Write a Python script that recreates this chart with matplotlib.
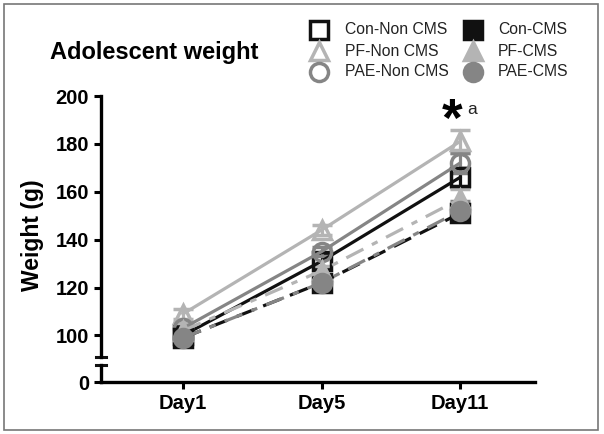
import matplotlib
matplotlib.use("Agg")
import matplotlib.pyplot as plt
from matplotlib.patches import Rectangle
from matplotlib.lines import Line2D

matplotlib.rcParams['font.family'] = ['Liberation Sans', 'DejaVu Sans']

BLACK = "#111111"
LIGHT = "#b4b4b4"
MID = "#858585"

days = ["Day1", "Day5", "Day11"]
con_non = [100, 131, 166]
pf_non = [109, 144, 181]
pae_non = [103, 135, 172]
con_cms = [99, 122, 151]
pf_cms = [102, 127, 157]
pae_cms = [99, 122, 152]
con_non_err = [2, 3, 4]
pf_non_err = [2, 2, 5]
pae_non_err = [2, 2, 4]
con_cms_err = [2, 2, 3]
pf_cms_err = [2, 2, 4]
pae_cms_err = [2, 2, 4]

series = [
    ("Con-Non CMS", con_non, con_non_err, BLACK, "s", "none", "-"),
    ("PF-Non CMS", pf_non, pf_non_err, LIGHT, "^", "none", "-"),
    ("PAE-Non CMS", pae_non, pae_non_err, MID, "o", "none", "-"),
    ("Con-CMS", con_cms, con_cms_err, BLACK, "s", BLACK, (0, (6, 3))),
    ("PF-CMS", pf_cms, pf_cms_err, LIGHT, "^", LIGHT, (0, (6, 3, 2, 3))),
    ("PAE-CMS", pae_cms, pae_cms_err, MID, "o", MID, (0, (6, 3, 2, 3))),
]

W, H = 604, 434
fig = plt.figure(figsize=(W / 100, H / 100), dpi=100)
ax = fig.add_axes([101 / W, 1 - 357 / H, 434 / W, 261 / H])
axb = fig.add_axes([101 / W, 1 - 382 / H, 434 / W, 17 / H])

x = list(range(len(days)))
for label, vals, err, col, mk, fc, ls in series:
    ax.errorbar(x, vals, yerr=err, color=col, lw=2.3, ls=ls, marker=mk,
                markersize=13, markerfacecolor=fc, markeredgecolor=col,
                markeredgewidth=2.5, capsize=7, capthick=2.3, elinewidth=2.3,
                clip_on=False, zorder=3)

xl = (-82 / 138.5, 352 / 138.5)
for a in (ax, axb):
    a.set_xlim(xl)
    for s in ("top", "right"):
        a.spines[s].set_visible(False)
    for s in ("left", "bottom"):
        a.spines[s].set_linewidth(2.4)
    a.tick_params(width=2.2, length=5, labelsize=14.5, direction="out")
    a.set_facecolor("none")

ax.set_ylim(91, 200)
ax.set_yticks([100, 120, 140, 160, 180, 200])
ax.spines["bottom"].set_visible(False)
ax.tick_params(axis="x", bottom=False, labelbottom=False)
axb.set_ylim(0, 7)
axb.set_yticks([0])
axb.set_xticks(x)
axb.set_xticklabels(days)
for a in (ax, axb):
    for t in a.get_yticklabels() + a.get_xticklabels():
        t.set_fontweight("bold")

# break marks
bw = 5 / 434
ax.plot([-bw, bw], [0, 0], transform=ax.transAxes, color=BLACK,
        lw=2.2, clip_on=False)
axb.plot([-bw, bw], [1, 1], transform=axb.transAxes, color=BLACK,
         lw=2.2, clip_on=False)

fig.text(33 / W, 1 - 235 / H, "Weight (g)", rotation=90, va="center",
         ha="center", fontsize=16.5, fontweight="bold")
fig.text(50 / W, 1 - 52 / H, "Adolescent weight", fontsize=17,
         fontweight="bold", va="center")
ax.text(2 - 0.06, 183.5, "*", fontsize=38, fontweight="bold", ha="center",
        va="baseline")
ax.text(2.087, 192.5, "a", fontsize=12.5, ha="center", va="baseline",
        color="#222222")

# legend, two columns
rows = [30, 51, 72]
cols = [(319, 345), (473, 498)]
for i, (label, vals, err, col, mk, fc, ls) in enumerate(series):
    mx, tx = cols[i // 3]
    y = 1 - rows[i % 3] / H
    fig.add_artist(Line2D([mx / W], [y], color=col, lw=0, marker=mk,
                          markersize=13, markerfacecolor=fc,
                          markeredgecolor=col, markeredgewidth=2.5,
                          transform=fig.transFigure))
    fig.text(tx / W, y, label, fontsize=11.3, va="center", ha="left",
             color="#222222")

fig.patches.append(Rectangle((4 / W, 4 / H), 594 / W, 426 / H, fill=False,
                             edgecolor="#777777", lw=1.2,
                             transform=fig.transFigure))

fig.savefig("out.png", dpi=100)
